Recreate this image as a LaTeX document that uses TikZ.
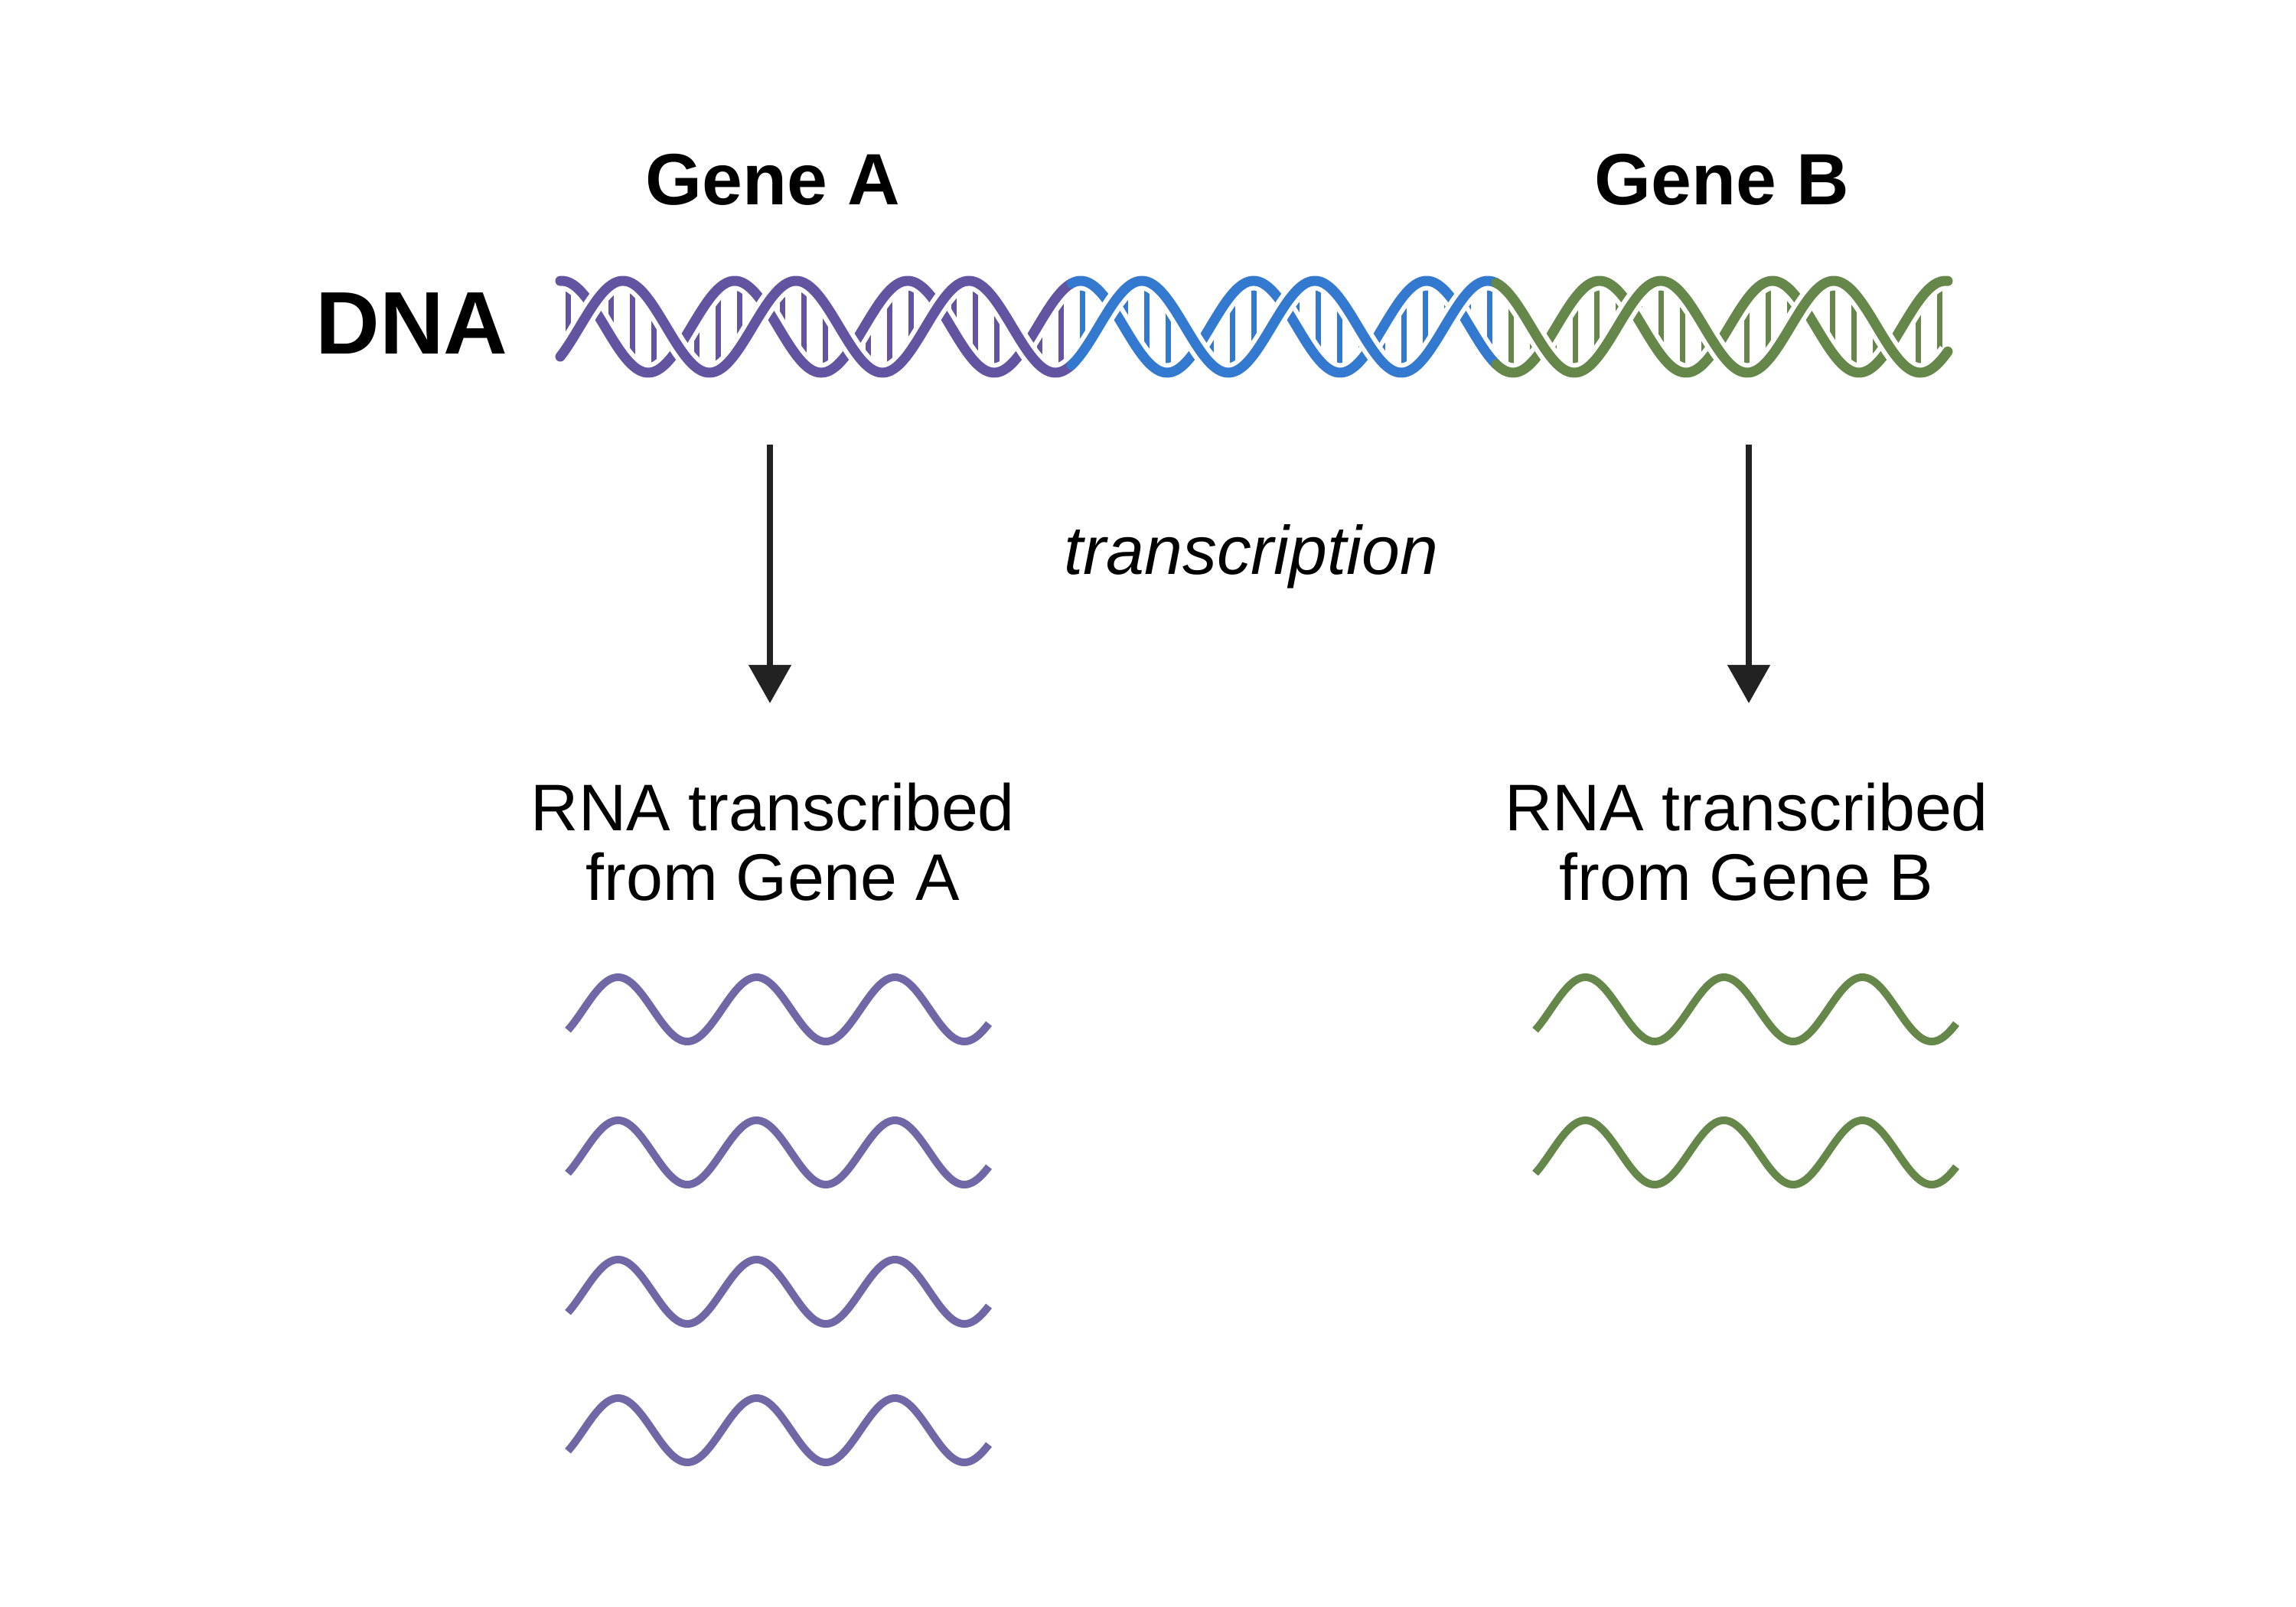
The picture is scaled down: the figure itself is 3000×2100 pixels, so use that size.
\documentclass[tikz,border=0pt]{standalone}
\usepackage{fontspec}
\setmainfont{Liberation Sans}
\usetikzlibrary{arrows.meta}
\definecolor{dpur}{HTML}{6353A1}
\definecolor{rpur}{HTML}{7067A6}
\definecolor{dblu}{HTML}{3479D0}
\definecolor{dgrn}{HTML}{66874A}
\definecolor{ink}{HTML}{222222}
\tikzset{
  px/.style={line width=#1*0.2845pt},
  strand/.style={px=13, line cap=round, preaction={draw=white, px=25, line cap=butt}},
  rung/.style={px=7},
  rna/.style={px=10},
  flow/.style={px=8, ink, -{Triangle[width=54*0.2845pt, length=50*0.2845pt]}},
}
\newcommand{\myrung}[2]{%
  \draw[rung,#2] (#1,{427+60*cos(1.59292*(#1-701))}) -- (#1,{427+60*cos(1.59292*(#1-847))});}
\newcommand{\mywave}[4]{% x0 x1 yc color
  \draw[rna,#4] plot[domain=#1:#2, samples=120, smooth] (\x,{#3+42*cos(1.98895*(\x-#1-156))});}
\begin{document}
\begin{tikzpicture}[x=0.01cm, y=-0.01cm]
\useasboundingbox[fill=white] (0,0) rectangle (3000,2100);
% rungs
\foreach \xx in {742,770,...,1400}{\myrung{\xx}{dpur}}
\foreach \xx in {1414,1442,...,1960}{\myrung{\xx}{dblu}}
\foreach \xx in {1974,2002,...,2540}{\myrung{\xx}{dgrn}}
% strand B
\draw[strand,dpur] plot[domain=732:1400, samples=150, smooth] (\x,{427+60*cos(1.59292*(\x-847))});
\draw[strand,dblu] plot[domain=1400:1955, samples=120, smooth] (\x,{427+60*cos(1.59292*(\x-847))});
\draw[strand,dgrn] plot[domain=1955:2545, samples=130, smooth] (\x,{427+60*cos(1.59292*(\x-847))});
% strand A
\draw[strand,dpur] plot[domain=732:1400, samples=150, smooth] (\x,{427+60*cos(1.59292*(\x-701))});
\draw[strand,dblu] plot[domain=1400:1955, samples=120, smooth] (\x,{427+60*cos(1.59292*(\x-701))});
\draw[strand,dgrn] plot[domain=1955:2545, samples=130, smooth] (\x,{427+60*cos(1.59292*(\x-701))});
% labels
\node[font=\fontsize{27}{30}\selectfont\bfseries] (ga) at (1010,235) {Gene A};
\node[font=\fontsize{27}{30}\selectfont\bfseries] (gb) at (2250,235) {Gene B};
\node[font=\fontsize{33}{36}\selectfont\bfseries] (dna) at (538,423) {DNA};
\node[font=\fontsize{25.5}{28}\selectfont\itshape] (tr) at (1635,727) {transcription};
\node[font=\fontsize{24.5}{26}\selectfont, align=center] (ra) at (1010,1100) {RNA transcribed\\from Gene A};
\node[font=\fontsize{24.5}{26}\selectfont, align=center] (rb) at (2282,1100) {RNA transcribed\\from Gene B};
% arrows
\coordinate (a1) at (1006,581); \coordinate (a2) at (1006,919);
\coordinate (b1) at (2285,581); \coordinate (b2) at (2285,919);
\draw[flow] (a1) -- (a2);
\draw[flow] (b1) -- (b2);
% RNA waves
\foreach \yy in {1319,1506,1688,1869}{\mywave{742}{1292}{\yy}{rpur}}
\foreach \yy in {1319,1506}{\mywave{2006}{2556}{\yy}{dgrn}}
\end{tikzpicture}
\end{document}
